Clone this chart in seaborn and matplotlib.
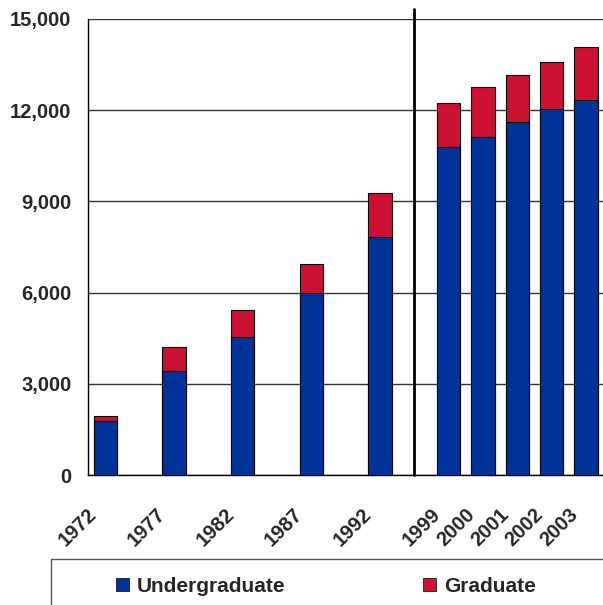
import numpy as np
import pandas as pd
import matplotlib
matplotlib.use("Agg")
import matplotlib.pyplot as plt
import matplotlib.transforms as mtransforms
import seaborn as sns
from matplotlib.patches import Rectangle, Patch
from matplotlib.ticker import FuncFormatter

years = ["1972", "1977", "1982", "1987", "1992", "1999", "2000", "2001", "2002", "2003"]
undergraduate = [1775, 3440, 4540, 5980, 7820, 10780, 11120, 11620, 12040, 12330]
graduate = [185, 790, 890, 955, 1450, 1440, 1625, 1530, 1525, 1730]

# five-year steps get an empty slot after them, the 1999+ years sit next to each other
slots = [0, 2, 4, 6, 8, 10, 11, 12, 13, 14]

df = pd.DataFrame({"year": years, "slot": slots,
                   "Undergraduate": undergraduate, "Graduate": graduate})
df["total"] = df["Undergraduate"] + df["Graduate"]

blue = "#003399"
red = "#CC1133"

sns.set_style("white")
plt.rcParams["font.family"] = ["Liberation Sans", "DejaVu Sans"]
plt.rcParams["font.weight"] = "bold"

fig = plt.figure(figsize=(6.03, 6.05), dpi=100)
ax = fig.add_axes([0.146, 0.2145, 0.854, 0.7545])

sns.barplot(data=df, x="slot", y="total", native_scale=True, color=red,
            width=0.68, edgecolor="black", linewidth=0.8, saturation=1, ax=ax, zorder=3)
sns.barplot(data=df, x="slot", y="Undergraduate", native_scale=True, color=blue,
            width=0.68, edgecolor="black", linewidth=0.8, saturation=1, ax=ax, zorder=4)

ax.set_xlim(-0.5, 14.5)
ax.set_ylim(0, 15000)
ax.set_yticks(np.arange(0, 15001, 3000))
ax.yaxis.set_major_formatter(FuncFormatter(lambda v, p: f"{int(v):,}"))
ax.yaxis.grid(True, color="#333333", linewidth=1)
ax.set_axisbelow(True)

# tick marks on slot borders, labels under bar centres
ax.set_xticks(np.arange(-0.5, 15, 1))
ax.set_xticklabels([])
ax.set_xticks(slots, minor=True)
ax.set_xticklabels(years, minor=True, rotation=45, ha="right", va="top",
                   rotation_mode="anchor", fontsize=14.5, fontweight="bold")
ax.tick_params(axis="x", which="major", direction="out", length=6, color="black", width=1)
ax.tick_params(axis="x", which="minor", length=0, pad=21)
shift = mtransforms.ScaledTranslation(-0.18, 0, fig.dpi_scale_trans)
for t in ax.get_xticklabels(minor=True):
    t.set_transform(t.get_transform() + shift)
ax.tick_params(axis="y", direction="out", length=6, color="black", width=1, labelsize=14.5, pad=6)
for t in ax.get_yticklabels():
    t.set_fontweight("bold")
ax.set_xlabel("")
ax.set_ylabel("")

for s in ["top", "right"]:
    ax.spines[s].set_visible(False)
for s in ["left", "bottom"]:
    ax.spines[s].set_color("black")
    ax.spines[s].set_linewidth(1)

ax.plot([9, 9], [0, 15330], color="black", linewidth=2, clip_on=False, zorder=5)

handles = [Patch(facecolor=blue, edgecolor="black", linewidth=0.5),
           Patch(facecolor=red, edgecolor="black", linewidth=0.5)]
fig.legend(handles, ["Undergraduate", "Graduate"], loc="center",
           bbox_to_anchor=(0.541, 0.031), ncol=2, frameon=False,
           prop={"size": 15, "weight": "bold"}, handlelength=0.62, handleheight=0.62,
           handletextpad=0.38, columnspacing=6.6)
fig.patches.append(Rectangle((0.085, -0.1), 1.0, 0.176, transform=fig.transFigure,
                             fill=False, edgecolor="#555555", linewidth=1))

fig.savefig("out.png", dpi=100)
